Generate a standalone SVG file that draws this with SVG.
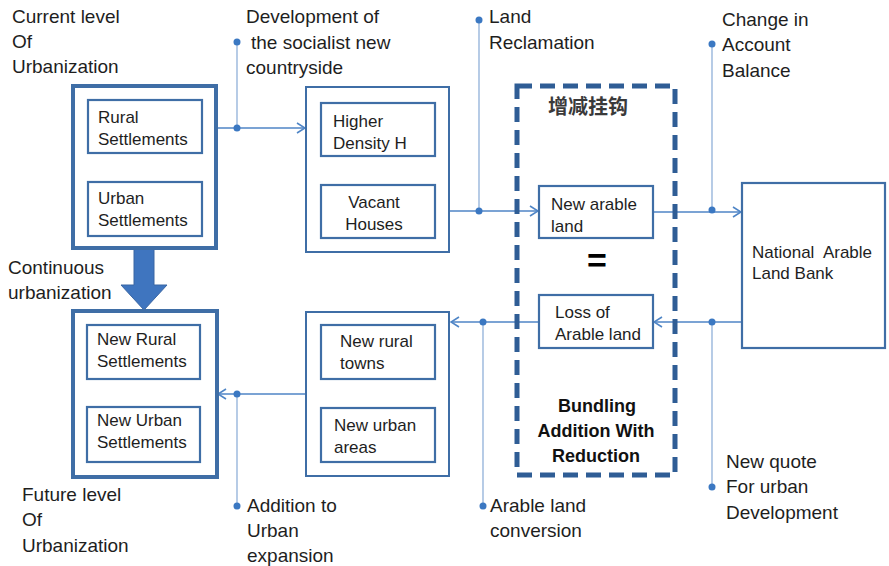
<svg xmlns="http://www.w3.org/2000/svg" width="889" height="566" viewBox="0 0 889 566">
<defs>
<style>
.thick{fill:#fff;stroke:#3f6ea6;stroke-width:4}
.thin{fill:#fff;stroke:#3f6ea6;stroke-width:2}
.box{fill:#fff;stroke:#3f6ea6;stroke-width:2.2}
.conn{fill:none;stroke:#4f85c6;stroke-width:1.6}
.lead{fill:none;stroke:#86a9d6;stroke-width:1.2}
.dot{fill:#3b78c2}
.lbl{font-family:"Liberation Sans",Arial,sans-serif;font-size:19px;fill:#1e1e1e}
.in{font-family:"Liberation Sans",Arial,sans-serif;font-size:17px;fill:#1e1e1e}
.bold{font-family:"Liberation Sans",Arial,sans-serif;font-size:18px;font-weight:bold;fill:#111}
</style>
<marker id="ah" viewBox="0 0 10 12" refX="9" refY="6" markerWidth="10" markerHeight="12" markerUnits="userSpaceOnUse" orient="auto">
<path d="M1,1 L9,6 L1,11" fill="none" stroke="#4f85c6" stroke-width="1.6"/>
</marker>
</defs>
<rect width="889" height="566" fill="#fff"/>

<g id="connectors">
<line class="lead" x1="237" y1="42" x2="237" y2="128"/>
<line class="lead" x1="479" y1="20" x2="479" y2="211"/>
<line class="lead" x1="712" y1="44" x2="712" y2="212"/>
<line class="lead" x1="712" y1="322" x2="712" y2="487"/>
<line class="lead" x1="483" y1="322" x2="483" y2="506"/>
<line class="lead" x1="237" y1="394" x2="237" y2="506"/>
<line class="conn" x1="202" y1="128" x2="305" y2="128" marker-end="url(#ah)"/>
<line class="conn" x1="435" y1="211" x2="538" y2="211" marker-end="url(#ah)"/>
<line class="conn" x1="653" y1="212" x2="741" y2="212" marker-end="url(#ah)"/>
<line class="conn" x1="742" y1="322" x2="654" y2="322" marker-end="url(#ah)"/>
<line class="conn" x1="538" y1="322" x2="451" y2="322" marker-end="url(#ah)"/>
<line class="conn" x1="305" y1="394" x2="218" y2="394" marker-end="url(#ah)"/>
<circle class="dot" cx="237" cy="42" r="3.5"/>
<circle class="dot" cx="237" cy="128" r="3.5"/>
<circle class="dot" cx="479" cy="20" r="3.5"/>
<circle class="dot" cx="479" cy="211" r="3.5"/>
<circle class="dot" cx="712" cy="44" r="3.5"/>
<circle class="dot" cx="712" cy="210" r="3.5"/>
<circle class="dot" cx="712" cy="322" r="3.5"/>
<circle class="dot" cx="712" cy="487" r="3.5"/>
<circle class="dot" cx="483" cy="322" r="3.5"/>
<circle class="dot" cx="483" cy="506" r="3.5"/>
<circle class="dot" cx="237" cy="394" r="3.5"/>
<circle class="dot" cx="237" cy="506" r="3.5"/>
<path d="M134,248 L154,248 L154,285 L167,285 L144,310 L121,285 L134,285 Z" fill="#3f75bf" stroke="#3a66a3" stroke-width="1"/>
</g>

<g id="current">
<rect class="thick" x="73" y="86" width="143" height="162"/>
<text class="lbl" x="12" y="23">Current level</text>
<text class="lbl" x="12" y="48">Of</text>
<text class="lbl" x="12" y="73">Urbanization</text>
</g>
<g id="rural">
<rect class="box" x="88" y="100" width="114" height="53"/>
<text class="in" x="98" y="123">Rural</text>
<text class="in" x="98" y="145">Settlements</text>
</g>
<g id="urban">
<rect class="box" x="88" y="182" width="114" height="54"/>
<text class="in" x="98" y="204">Urban</text>
<text class="in" x="98" y="226">Settlements</text>
</g>

<g id="future">
<rect class="thick" x="73" y="311" width="144" height="166"/>
<text class="lbl" x="22" y="501">Future level</text>
<text class="lbl" x="22" y="526">Of</text>
<text class="lbl" x="22" y="552">Urbanization</text>
</g>
<g id="newrural">
<rect class="box" x="87" y="325" width="113" height="54"/>
<text class="in" x="97" y="345">New Rural</text>
<text class="in" x="97" y="367">Settlements</text>
</g>
<g id="newurban">
<rect class="box" x="87" y="407" width="113" height="55"/>
<text class="in" x="97" y="426">New Urban</text>
<text class="in" x="97" y="448">Settlements</text>
</g>

<g id="socialist">
<rect class="thin" x="306" y="87" width="143" height="165"/>
</g>
<g id="higher">
<rect class="box" x="321" y="103" width="114" height="53"/>
<text class="in" x="333" y="127">Higher</text>
<text class="in" x="333" y="149">Density H</text>
</g>
<g id="vacant">
<rect class="box" x="321" y="185" width="114" height="53"/>
<text class="in" x="374" y="208" text-anchor="middle">Vacant</text>
<text class="in" x="374" y="230" text-anchor="middle">Houses</text>
</g>

<g id="expansion">
<rect class="thin" x="306" y="312" width="143" height="164"/>
</g>
<g id="towns">
<rect class="box" x="321" y="325" width="114" height="54"/>
<text class="in" x="340" y="347">New rural</text>
<text class="in" x="340" y="369">towns</text>
</g>
<g id="areas">
<rect class="box" x="321" y="408" width="114" height="54"/>
<text class="in" x="334" y="431">New urban</text>
<text class="in" x="334" y="453">areas</text>
</g>

<g id="bundling">
<rect x="517" y="86" width="158" height="389" fill="none" stroke="#2f5d95" stroke-width="5" stroke-dasharray="15 8"/>
<text x="588" y="114" text-anchor="middle" font-family="'Noto Sans CJK SC',sans-serif" font-size="20" font-weight="bold" fill="#3a3a3a">增减挂钩</text>
<text x="597" y="272" text-anchor="middle" font-family="'Liberation Sans',Arial,sans-serif" font-size="34" font-weight="bold" fill="#000">=</text>
<text class="bold" x="597" y="412" text-anchor="middle">Bundling</text>
<text class="bold" x="596" y="437" text-anchor="middle">Addition With</text>
<text class="bold" x="596" y="462" text-anchor="middle">Reduction</text>
</g>
<g id="newarable">
<rect class="box" x="539" y="186" width="114" height="52"/>
<text class="in" x="551" y="210">New arable</text>
<text class="in" x="551" y="232">land</text>
</g>
<g id="loss">
<rect class="box" x="539" y="295" width="114" height="53"/>
<text class="in" x="555" y="318">Loss of</text>
<text class="in" x="555" y="340">Arable land</text>
</g>

<g id="bank">
<rect class="box" x="742" y="183" width="143" height="165"/>
<text class="in" x="752" y="258" font-size="16" xml:space="preserve">National  Arable</text>
<text class="in" x="752" y="279" font-size="16">Land Bank</text>
</g>

<g id="labels">
<text class="lbl" x="246" y="23">Development of</text>
<text class="lbl" x="251" y="49">the socialist new</text>
<text class="lbl" x="246" y="74">countryside</text>
<text class="lbl" x="489" y="23">Land</text>
<text class="lbl" x="489" y="49">Reclamation</text>
<text class="lbl" x="722" y="26">Change in</text>
<text class="lbl" x="722" y="51">Account</text>
<text class="lbl" x="722" y="77">Balance</text>
<text class="lbl" x="8" y="274">Continuous</text>
<text class="lbl" x="8" y="299">urbanization</text>
<text class="lbl" x="247" y="512">Addition to</text>
<text class="lbl" x="247" y="537">Urban</text>
<text class="lbl" x="247" y="562">expansion</text>
<text class="lbl" x="490" y="512">Arable land</text>
<text class="lbl" x="490" y="537">conversion</text>
<text class="lbl" x="726" y="468">New quote</text>
<text class="lbl" x="726" y="493">For urban</text>
<text class="lbl" x="726" y="519">Development</text>
</g>
</svg>
